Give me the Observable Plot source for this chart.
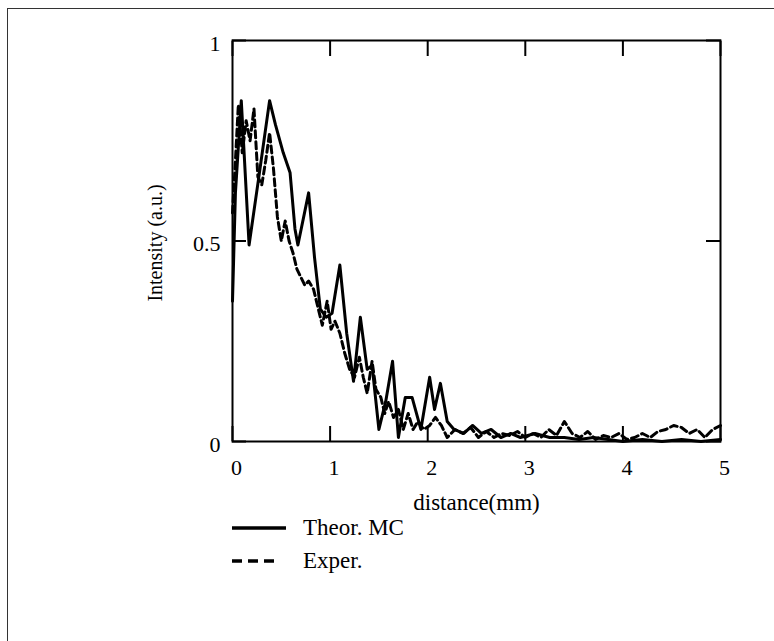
<!DOCTYPE html>
<html>
<head>
<meta charset="utf-8">
<script src="https://cdn.jsdelivr.net/npm/d3@7"></script>
<script src="https://cdn.jsdelivr.net/npm/@observablehq/plot@0.6"></script>
<style>
  html, body { margin: 0; padding: 0; background: #fff; }
  #page { position: relative; width: 774px; height: 641px; overflow: hidden; background: #fff; font-family: "Liberation Serif", serif; }
  #border { position: absolute; left: 7px; top: 8px; right: -2px; bottom: -2px; border-left: 1.3px solid #333; border-top: 1.3px solid #333; }
  #chart { position: absolute; left: 0; top: 0; }
  #legend { position: absolute; left: 232px; top: 511px; font-size: 23px; color: #000; }
  .row { display: flex; align-items: center; height: 33px; }
  .row span { margin-left: 17px; }
</style>
</head>
<body>
<div id="page">
  <div id="border"></div>
  <div id="chart"></div>
  <div id="legend"></div>
</div>
<script>
// ---- data ----
const seriesNames = ["Theor. MC", "Exper."];

const theorX = [0, 0.03, 0.09, 0.17, 0.27, 0.38, 0.44, 0.52, 0.59, 0.64,
  0.67, 0.78, 0.84, 0.90, 0.96, 1.02, 1.10, 1.17, 1.24, 1.31,
  1.38, 1.43, 1.50, 1.57, 1.64, 1.70, 1.77, 1.84, 1.93, 2.02,
  2.07, 2.13, 2.20, 2.27, 2.37, 2.46, 2.55, 2.65, 2.75, 2.85,
  2.95, 3.1, 3.25, 3.4, 3.55, 3.7, 3.85, 4.0, 4.2, 4.4,
  4.6, 4.8, 5.0];
const theorY = [0.35, 0.62, 0.85, 0.49, 0.66, 0.85, 0.79, 0.72, 0.67, 0.53,
  0.49, 0.62, 0.46, 0.33, 0.31, 0.32, 0.44, 0.27, 0.15, 0.31,
  0.18, 0.19, 0.03, 0.10, 0.20, 0.01, 0.11, 0.11, 0.03, 0.16,
  0.08, 0.145, 0.05, 0.03, 0.02, 0.04, 0.02, 0.03, 0.01, 0.02,
  0.01, 0.02, 0.01, 0.01, 0.005, 0.01, 0.005, 0.0, 0.005, 0.0,
  0.005, 0.0, 0.005];

const experX = [0, 0.03, 0.06, 0.10, 0.14, 0.18, 0.22, 0.26, 0.30, 0.34,
  0.38, 0.42, 0.46, 0.50, 0.54, 0.58, 0.62, 0.66, 0.70, 0.74,
  0.78, 0.83, 0.88, 0.92, 0.97, 1.01, 1.05, 1.10, 1.15, 1.20,
  1.25, 1.30, 1.34, 1.38, 1.43, 1.47, 1.52, 1.56, 1.60, 1.65,
  1.70, 1.75, 1.80, 1.85, 1.90, 1.96, 2.02, 2.08, 2.14, 2.20,
  2.28, 2.36, 2.44, 2.52, 2.60, 2.68, 2.76, 2.84, 2.92, 3.00,
  3.08, 3.16, 3.24, 3.32, 3.40, 3.48, 3.56, 3.64, 3.72, 3.80,
  3.88, 3.96, 4.04, 4.12, 4.20, 4.28, 4.36, 4.44, 4.52, 4.60,
  4.68, 4.76, 4.84, 4.92, 5.0];
const experY = [0.57, 0.70, 0.84, 0.72, 0.80, 0.75, 0.83, 0.66, 0.64, 0.70,
  0.77, 0.68, 0.56, 0.50, 0.55, 0.50, 0.47, 0.43, 0.41, 0.39,
  0.40, 0.38, 0.33, 0.29, 0.35, 0.28, 0.30, 0.27, 0.22, 0.18,
  0.16, 0.21, 0.16, 0.12, 0.20, 0.13, 0.11, 0.07, 0.10, 0.06,
  0.08, 0.03, 0.07, 0.03, 0.05, 0.03, 0.04, 0.06, 0.04, 0.01,
  0.03, 0.02, 0.035, 0.01, 0.025, 0.01, 0.02, 0.015, 0.025, 0.01,
  0.02, 0.01, 0.03, 0.015, 0.05, 0.02, 0.01, 0.025, 0.005, 0.015,
  0.01, 0.02, 0.005, 0.01, 0.02, 0.01, 0.025, 0.03, 0.04, 0.035,
  0.02, 0.03, 0.01, 0.03, 0.04];

const xTicks = [0, 1, 2, 3, 4, 5];
const xTickLabels = ["0", "1", "2", "3", "4", "5"];
const yTicks = [0, 0.5, 1];
const yTickLabels = ["0", "0.5", "1"];
const xLabel = "distance(mm)";
const yLabel = "Intensity (a.u.)";

// ---- build tables ----
const theor = theorX.map((x, i) => ({x, y: theorY[i]}));
const exper = experX.map((x, i) => ({x, y: experY[i]}));

const chart = Plot.plot({
  width: 774,
  height: 526,
  marginLeft: 232,
  marginRight: 54,
  marginTop: 40,
  marginBottom: 85,
  style: {fontFamily: "Liberation Serif, serif", fontSize: "22px", color: "#000", background: "transparent"},
  x: {domain: [0, 5]},
  y: {domain: [0, 1]},
  marks: [
    Plot.frame({stroke: "#000", strokeWidth: 2}),
    // inward ticks on all four sides
    Plot.axisX({anchor: "bottom", ticks: xTicks, tickSize: -15, tickFormat: () => "", label: null, strokeWidth: 2}),
    Plot.axisX({anchor: "top", ticks: xTicks, tickSize: -15, tickFormat: () => "", label: null, strokeWidth: 2}),
    Plot.axisY({anchor: "left", ticks: yTicks, tickSize: -14, tickFormat: () => "", label: null, strokeWidth: 2}),
    Plot.axisY({anchor: "right", ticks: yTicks, tickSize: -15, tickFormat: () => "", label: null, strokeWidth: 2}),
    // tick labels
    Plot.axisX({anchor: "bottom", ticks: xTicks, tickSize: 0, tickPadding: 18, dx: 4, tickFormat: (d, i) => xTickLabels[i], label: null}),
    Plot.axisY({anchor: "left", ticks: yTicks, tickSize: 0, tickPadding: 12, dy: 3, tickFormat: (d, i) => yTickLabels[i], label: null}),
    // axis titles
    Plot.text([xLabel], {frameAnchor: "bottom", text: d => d, dy: 68, fontSize: 23}),
    Plot.text([yLabel], {frameAnchor: "left", text: d => d, dx: -77, dy: 2, rotate: -90, textAnchor: "middle", fontSize: 20}),
    // data
    Plot.line(exper, {x: "x", y: "y", stroke: "#000", strokeWidth: 3, strokeDasharray: "7,4", strokeLinejoin: "round"}),
    Plot.line(theor, {x: "x", y: "y", stroke: "#000", strokeWidth: 3, strokeLinejoin: "round"})
  ]
});
document.getElementById("chart").appendChild(chart);

// ---- legend ----
const legend = document.getElementById("legend");
const dashes = [null, "10,6"];
const widths = [54, 42];
seriesNames.forEach((name, i) => {
  const row = document.createElement("div");
  row.className = "row";
  const w = widths[i];
  row.innerHTML = `<svg width="54" height="10"><line x1="0" y1="5" x2="${w}" y2="5" stroke="#000" stroke-width="3.5" ${dashes[i] ? `stroke-dasharray="${dashes[i]}"` : ""}/></svg><span>${name}</span>`;
  legend.appendChild(row);
});
</script>
</body>
</html>
